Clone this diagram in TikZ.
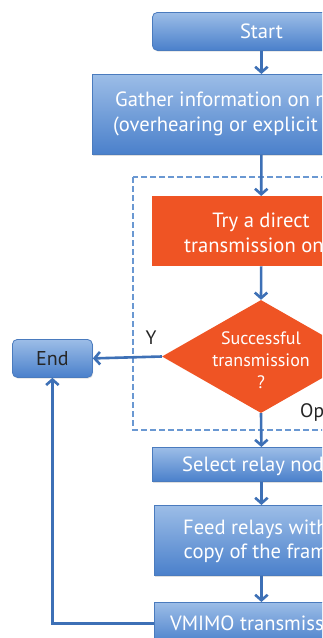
\documentclass[tikz,border=0pt]{standalone}
\usepackage{fontspec}
\setmainfont{PT Sans}
\usetikzlibrary{arrows.meta,shapes.geometric,shadows}
\definecolor{bluetop}{HTML}{9CBDE7}
\definecolor{bluebot}{HTML}{4A80CB}
\definecolor{blueedge}{HTML}{4A7BBE}
\definecolor{orangefill}{HTML}{EF5424}
\definecolor{arrowblue}{HTML}{3D70B6}
\definecolor{dashblue}{HTML}{6A98D2}
\tikzset{
  bluebox/.style={rectangle, draw=blueedge, line width=0.8pt, top color=bluetop, bottom color=bluebot,
    inner sep=0pt, anchor=north west, drop shadow={opacity=0.25, shadow xshift=0.8pt, shadow yshift=-1.2pt}},
  orangebox/.style={rectangle, fill=orangefill, inner sep=0pt, anchor=north west},
  flow/.style={draw=arrowblue, line width=2.6pt, -{Straight Barb[length=5.5pt,width=12.5pt]}},
  wtxt/.style={text=white, font=\fontsize{20.6}{25}\selectfont, inner sep=0pt, anchor=base west},
  dtxt/.style={text=white, font=\fontsize{18}{22}\selectfont, inner sep=0pt, anchor=base},
  ktxt/.style={text=black!85, font=\fontsize{19.5}{23}\selectfont, inner sep=0pt},
}
\begin{document}
\begin{tikzpicture}[x=1pt,y=-1pt]
\useasboundingbox (0,0) rectangle (322,638);
\clip (0,0) rectangle (322,638);
\fill[white] (0,0) rectangle (322,638);

% dashed region
\draw[dashblue, line width=1.2pt, dash pattern=on 6pt off 3pt] (133,177) rectangle (400,430);

% boxes
\node[bluebox, rounded corners=5pt, minimum width=218pt, minimum height=38pt, text=white,
  font=\fontsize{20.6}{25}\selectfont] (start) at (152,12) {Start};
\node[bluebox, minimum width=338pt, minimum height=80pt] (gather) at (92,74) {};
\node[orangebox, minimum width=218pt, minimum height=70pt] (try) at (152,196) {};
\node[diamond, fill=orangefill, inner sep=0pt, minimum width=198pt, minimum height=113pt,
  shape aspect=1.75] (dec) at (261,356.5) {};
\node[bluebox, rounded corners=5pt, minimum width=80pt, minimum height=38pt, text=black!85,
  font=\fontsize{20}{23}\selectfont] (endn) at (12,339) {End};
\node[bluebox, minimum width=218pt, minimum height=34pt] (select) at (152,447) {};
\node[bluebox, minimum width=214pt, minimum height=70pt] (feed) at (154,505) {};
\node[bluebox, minimum width=214pt, minimum height=42pt] (vmimo) at (154,602) {};

% texts
\node[wtxt] (ga) at (115,106) {Gather information on n};
\node[wtxt] (gb) at (113,131.5) {(overhearing or explicit};
\node[wtxt, anchor=base] (ta) at (261,227) {Try a direct};
\node[wtxt] (tb) at (184,252.5) {transmission on};
\node[dtxt] (da) at (261,344) {Successful};
\node[dtxt] (db) at (261,366) {transmission};
\node[dtxt] (dc) at (261,388) {?};
\node[wtxt] (sa) at (182,471.5) {Select relay nod};
\node[wtxt] (fa) at (183,534) {Feed relays with};
\node[wtxt] (fb) at (183.5,558.5) {copy of the fram};
\node[wtxt] (va) at (170,630) {VMIMO transmiss};
\node[ktxt, anchor=base] (ylab) at (151,344) {Y};
\node[ktxt, anchor=base west] (oplab) at (300,417) {Op};

% connectors
\draw[flow] (start.south) -- (gather.north);
\draw[flow] (gather.south) -- (try.north);
\draw[flow] (try.south) -- (dec.north);
\draw[flow] (dec.west) -- (endn.east);
\draw[flow] (dec.south) -- (select.north);
\draw[flow] (select.south) -- (feed.north);
\draw[flow] (feed.south) -- (vmimo.north);
\draw[flow] (vmimo.west) -| (endn.south);
\end{tikzpicture}
\end{document}
